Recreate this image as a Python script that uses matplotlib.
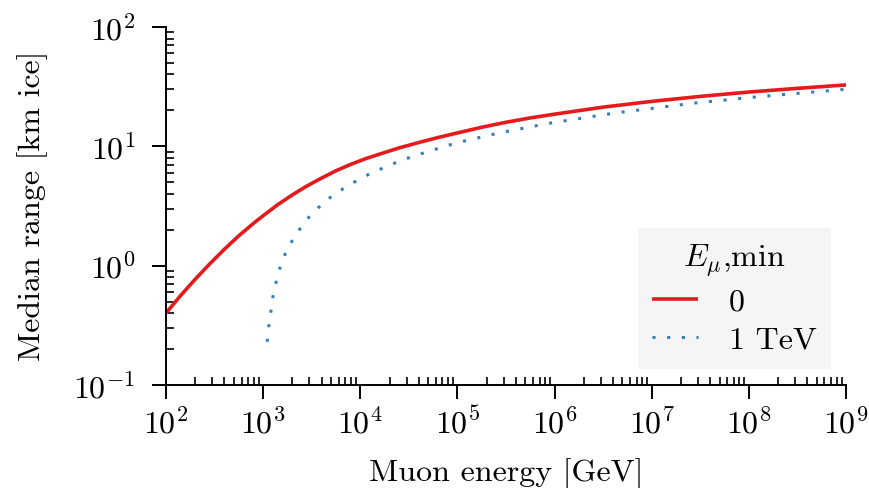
import matplotlib
matplotlib.use("Agg")
import matplotlib.pyplot as plt

# ---- data ----
energy_0 = [1.0e2, 1.41e2, 2.0e2, 2.82e2, 3.98e2, 5.62e2, 7.94e2, 1.0e3, 1.41e3,
            2.0e3, 2.82e3, 3.98e3, 5.62e3, 7.94e3, 1.12e4, 1.58e4, 2.51e4, 3.98e4,
            6.31e4, 1.0e5, 1.78e5, 3.16e5, 5.62e5, 1.0e6, 3.16e6, 1.0e7, 3.16e7,
            1.0e8, 3.16e8, 1.0e9]
range_0 = [0.40, 0.56, 0.77, 1.035, 1.37, 1.78, 2.26, 2.62, 3.24,
           3.92, 4.65, 5.41, 6.24, 7.05, 7.85, 8.6, 9.7, 10.75,
           11.85, 12.95, 14.45, 15.9, 17.3, 18.6, 21.3, 23.8, 26.2,
           28.5, 30.6, 32.7]

energy_1tev = [1.10e3, 1.14e3, 1.20e3, 1.26e3, 1.36e3, 1.49e3, 1.69e3, 2.0e3, 2.44e3,
               3.03e3, 3.92e3, 5.12e3, 6.92e3, 9.40e3, 1.30e4, 1.81e4, 2.51e4, 3.52e4,
               4.90e4, 6.89e4, 9.84e4, 2.74e5, 5.58e5, 7.98e5, 2.26e6, 4.53e6, 9.23e6,
               2.69e7, 1.11e8, 1.0e9]
range_1tev = [0.23, 0.306, 0.41, 0.547, 0.726, 0.96, 1.26, 1.63, 2.08,
              2.61, 3.2, 3.84, 4.5, 5.2, 5.98, 6.7, 7.5, 8.26,
              9.0, 9.8, 10.7, 13.0, 14.5, 15.4, 17.6, 19.2, 20.6,
              23.0, 25.8, 30.1]

labels = ["0", "1 TeV"]
legend_title = r"$E_\mu$,min"
xlabel = "Muon energy [GeV]"
ylabel = "Median range [km ice]"

FS = 23
plt.rcParams.update({
    "font.family": "serif",
    "font.serif": ["cmr10"],
    "mathtext.fontset": "cm",
    "axes.formatter.use_mathtext": True,
    "font.size": FS,
})

fig = plt.figure(figsize=(8.7, 4.88), dpi=100)
ax = fig.add_axes([0.1908, 0.2111, 0.9724 - 0.1908, 0.9447 - 0.2111])

red = "#e41a1c"
blue = "#377eb8"
ax.plot(energy_0, range_0, color=red, lw=2.6, solid_capstyle="butt",
        solid_joinstyle="round", label=labels[0])
ax.plot(energy_1tev, range_1tev, color=blue, lw=2.2, linestyle=(0, (1, 3.8)),
        dash_capstyle="butt", label=labels[1])

ax.set_xscale("log")
ax.set_yscale("log")
ax.set_xlim(1e2, 1e9)
ax.set_ylim(1e-1, 1e2)

for s in ["top", "right"]:
    ax.spines[s].set_visible(False)
for s in ["left", "bottom"]:
    ax.spines[s].set_linewidth(1.4)

ax.tick_params(which="major", direction="out", length=10, width=1.4, labelsize=FS)
ax.tick_params(axis="x", which="major", pad=6)
ax.tick_params(axis="y", which="major", pad=12)
ax.tick_params(which="minor", direction="in", length=5.5, width=1.2)

ax.set_xlabel(xlabel, fontsize=FS, labelpad=13)
ax.set_ylabel(ylabel, fontsize=FS, labelpad=18)

leg = ax.legend(title=legend_title, loc="lower right", bbox_to_anchor=(0.978, 0.045),
                borderaxespad=0, frameon=True, fancybox=False, fontsize=FS,
                title_fontsize=FS, handlelength=1.45, handletextpad=0.95,
                borderpad=0.45, labelspacing=0.3)
leg.get_frame().set_facecolor("#f5f5f5")
leg.get_frame().set_edgecolor("none")
leg.get_frame().set_alpha(1)

fig.savefig("out.png", dpi=100)
